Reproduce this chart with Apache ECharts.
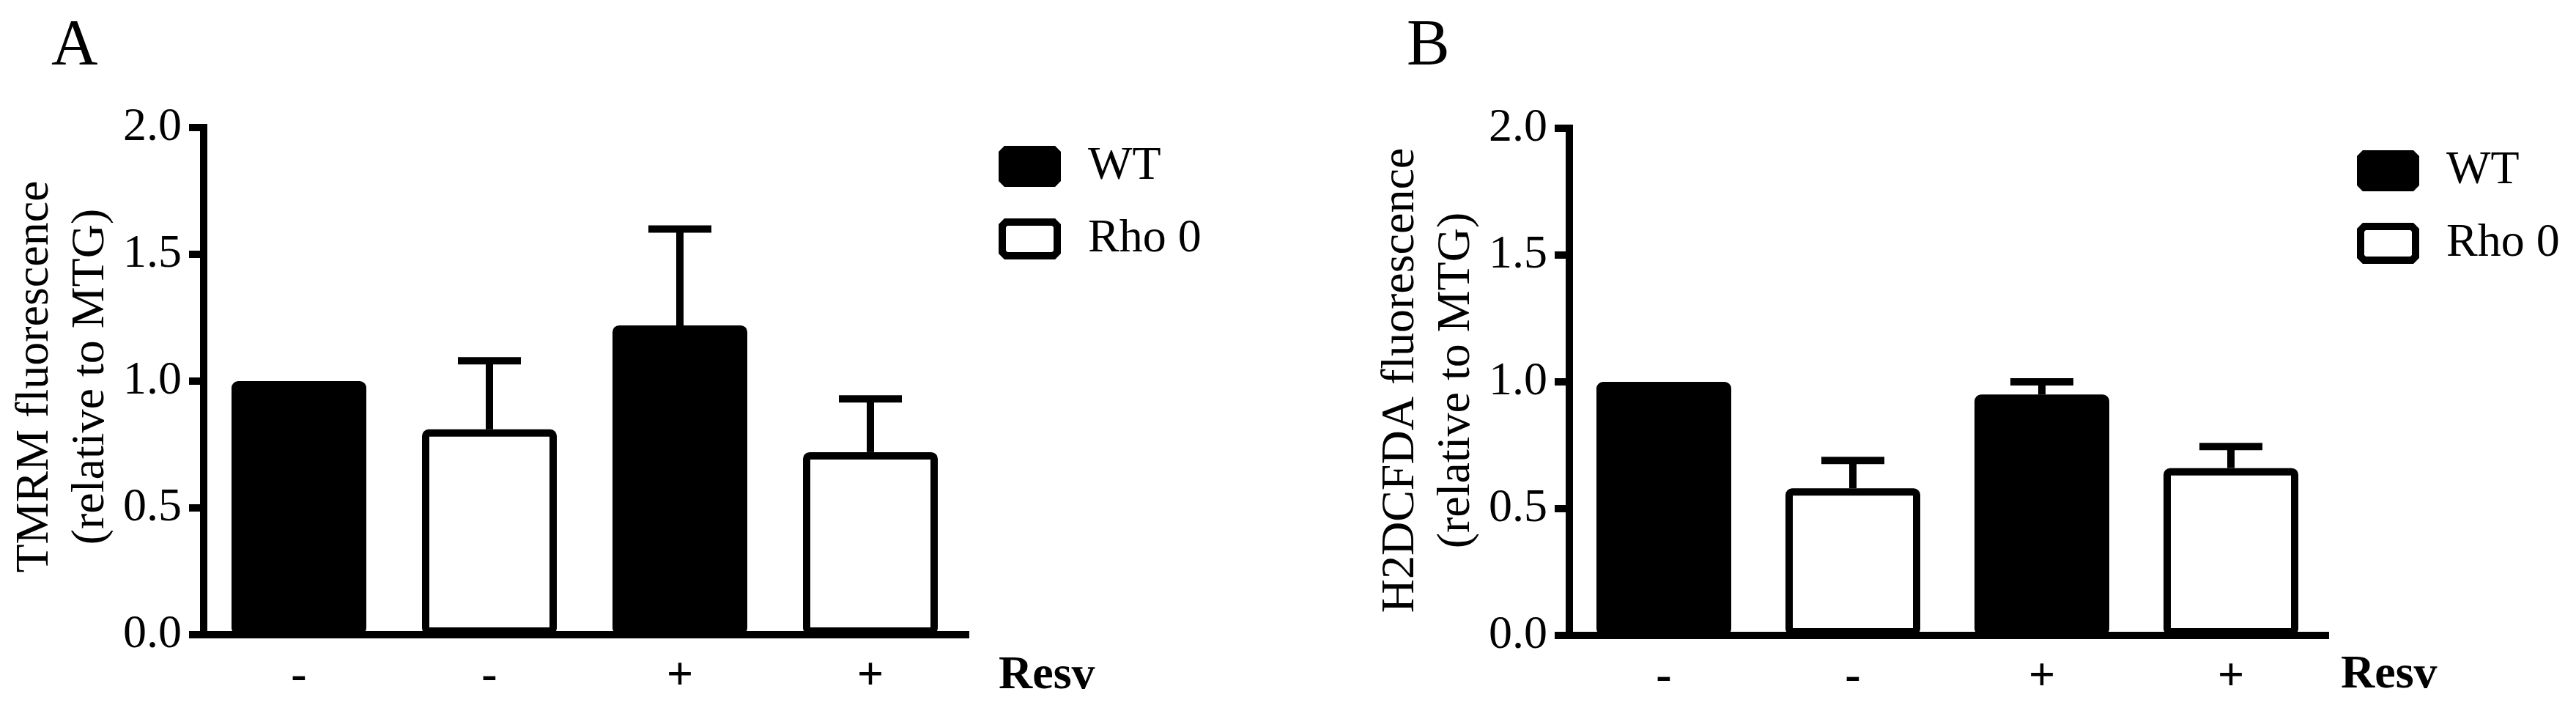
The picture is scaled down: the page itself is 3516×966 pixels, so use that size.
<!DOCTYPE html>
<html>
<head>
<meta charset="utf-8">
<title>TMRM / H2DCFDA fluorescence</title>
<script src="https://cdn.jsdelivr.net/npm/echarts@6/dist/echarts.min.js"></script>
<style>
html, body { margin: 0; padding: 0; background: #fff; }
#chart { width: 3516px; height: 966px; }
</style>
</head>
<body>
<div id="chart"></div>
<script>
// 数据
var resvLabels = ['-', '-', '+', '+'];
var groups = ['WT', 'Rho 0', 'WT', 'Rho 0'];
var tmrmMean = [1.00, 0.81, 1.22, 0.72];
var tmrmErr = [0, 0.27, 0.38, 0.21];
var dcfMean = [1.00, 0.58, 0.95, 0.66];
var dcfErr = [0, 0.11, 0.05, 0.085];
var yTicks = [0, 0.5, 1.0, 1.5, 2.0];

var FONT = "'Liberation Serif', 'Times New Roman', serif";

// 每个分组只保留自己的柱子
function pick(mean, name) {
    return mean.map(function (v, i) {
        return groups[i] === name ? v : '-';
    });
}

// 误差线数据 [index, mean, mean+err]
function errData(mean, err) {
    var out = [];
    for (var i = 0; i < mean.length; i++) {
        if (err[i] > 0) out.push([i, mean[i], mean[i] + err[i]]);
    }
    return out;
}

function renderErr(params, api) {
    var x = api.value(0);
    var lo = api.coord([x, api.value(1)]);
    var hi = api.coord([x, api.value(2)]);
    var st = { stroke: '#000', lineWidth: 10 };
    return {
        type: 'group',
        children: [
            { type: 'line', shape: { x1: lo[0], y1: lo[1], x2: hi[0], y2: hi[1] }, style: st },
            { type: 'line', shape: { x1: hi[0] - 43, y1: hi[1], x2: hi[0] + 43, y2: hi[1] }, style: st }
        ]
    };
}

function xAxisOpt(gi) {
    return {
        type: 'category',
        gridIndex: gi,
        data: resvLabels,
        axisLine: { lineStyle: { color: '#000', width: 10, cap: 'square' } },
        axisTick: { show: false },
        axisLabel: {
            color: '#000', fontFamily: FONT, fontSize: 64, fontWeight: 'bold',
            lineHeight: 64, margin: 25
        }
    };
}

function yAxisOpt(gi) {
    return {
        type: 'value',
        gridIndex: gi,
        min: yTicks[0],
        max: yTicks[yTicks.length - 1],
        interval: yTicks[1] - yTicks[0],
        axisLine: { show: true, lineStyle: { color: '#000', width: 10, cap: 'square' } },
        axisTick: { show: true, length: 20, lineStyle: { color: '#000', width: 10 } },
        splitLine: { show: false },
        axisLabel: {
            color: '#000', fontFamily: FONT, fontSize: 64, margin: 30,
            formatter: function (v) { return v.toFixed(1); }
        }
    };
}

function barSeries(name, gi, mean, fill) {
    return {
        name: name,
        type: 'bar',
        xAxisIndex: gi,
        yAxisIndex: gi,
        data: pick(mean, name),
        barWidth: 184,
        barGap: '-100%',
        itemStyle: { color: fill, borderColor: '#000', borderWidth: 10, borderRadius: 4 },
        emphasis: { disabled: true }
    };
}

function errSeries(gi, mean, err) {
    return {
        type: 'custom',
        xAxisIndex: gi,
        yAxisIndex: gi,
        data: errData(mean, err),
        encode: { x: 0, y: [1, 2] },
        renderItem: renderErr,
        z: 3
    };
}

// 图例方块：切角矩形
var boxIcon = 'path://M5,0 L70,0 L75,5 L75,41 L70,46 L5,46 L0,41 L0,5 Z';

function legendOpt(left, top) {
    return {
        data: ['WT', 'Rho 0'],
        orient: 'vertical',
        left: left,
        top: top,
        padding: 0,
        icon: boxIcon,
        itemWidth: 75,
        itemHeight: 46,
        itemGap: 35,
        selectedMode: false,
        itemStyle: { borderWidth: 10, borderColor: '#000' },
        textStyle: {
            color: '#000', fontFamily: FONT, fontSize: 64, lineHeight: 46,
            padding: [0, 0, 0, 37]
        }
    };
}

function text(str, x, y, size, opts) {
    var t = {
        type: 'text',
        x: x,
        y: y,
        style: {
            text: str, fill: '#000', fontFamily: FONT, fontSize: size,
            align: 'left', verticalAlign: 'middle'
        }
    };
    if (opts) {
        for (var k in opts.style || {}) t.style[k] = opts.style[k];
        if (opts.rotation) t.rotation = opts.rotation;
    }
    return t;
}

var myChart = echarts.init(document.getElementById('chart'));

var option = {
    animation: false,
    backgroundColor: '#fff',
    grid: [
        { left: 278, right: 3516 - 1318, top: 174, bottom: 100 },
        { left: 2142, right: 3516 - 3174, top: 175, bottom: 99 }
    ],
    xAxis: [xAxisOpt(0), xAxisOpt(1)],
    yAxis: [yAxisOpt(0), yAxisOpt(1)],
    legend: [legendOpt(1363, 195), legendOpt(3217, 201)],
    series: [
        barSeries('WT', 0, tmrmMean, '#000'),
        barSeries('Rho 0', 0, tmrmMean, '#fff'),
        errSeries(0, tmrmMean, tmrmErr),
        barSeries('WT', 1, dcfMean, '#000'),
        barSeries('Rho 0', 1, dcfMean, '#fff'),
        errSeries(1, dcfMean, dcfErr)
    ],
    graphic: [
        text('A', 70, 64, 88),
        text('B', 1920, 64, 88),
        text('Resv', 1363, 922, 64, { style: { fontWeight: 'bold' } }),
        text('Resv', 3195, 921, 64, { style: { fontWeight: 'bold' } }),
        // 纵轴标题
        text('TMRM fluorescence\n(relative to MTG)', 86, 514, 64,
            { style: { align: 'center', lineHeight: 76 }, rotation: Math.PI / 2 }),
        text('H2DCFDA fluorescence\n(relative to MTG)', 1950, 519, 64,
            { style: { align: 'center', lineHeight: 76 }, rotation: Math.PI / 2 })
    ]
};
myChart.setOption(option);
</script>
</body>
</html>
